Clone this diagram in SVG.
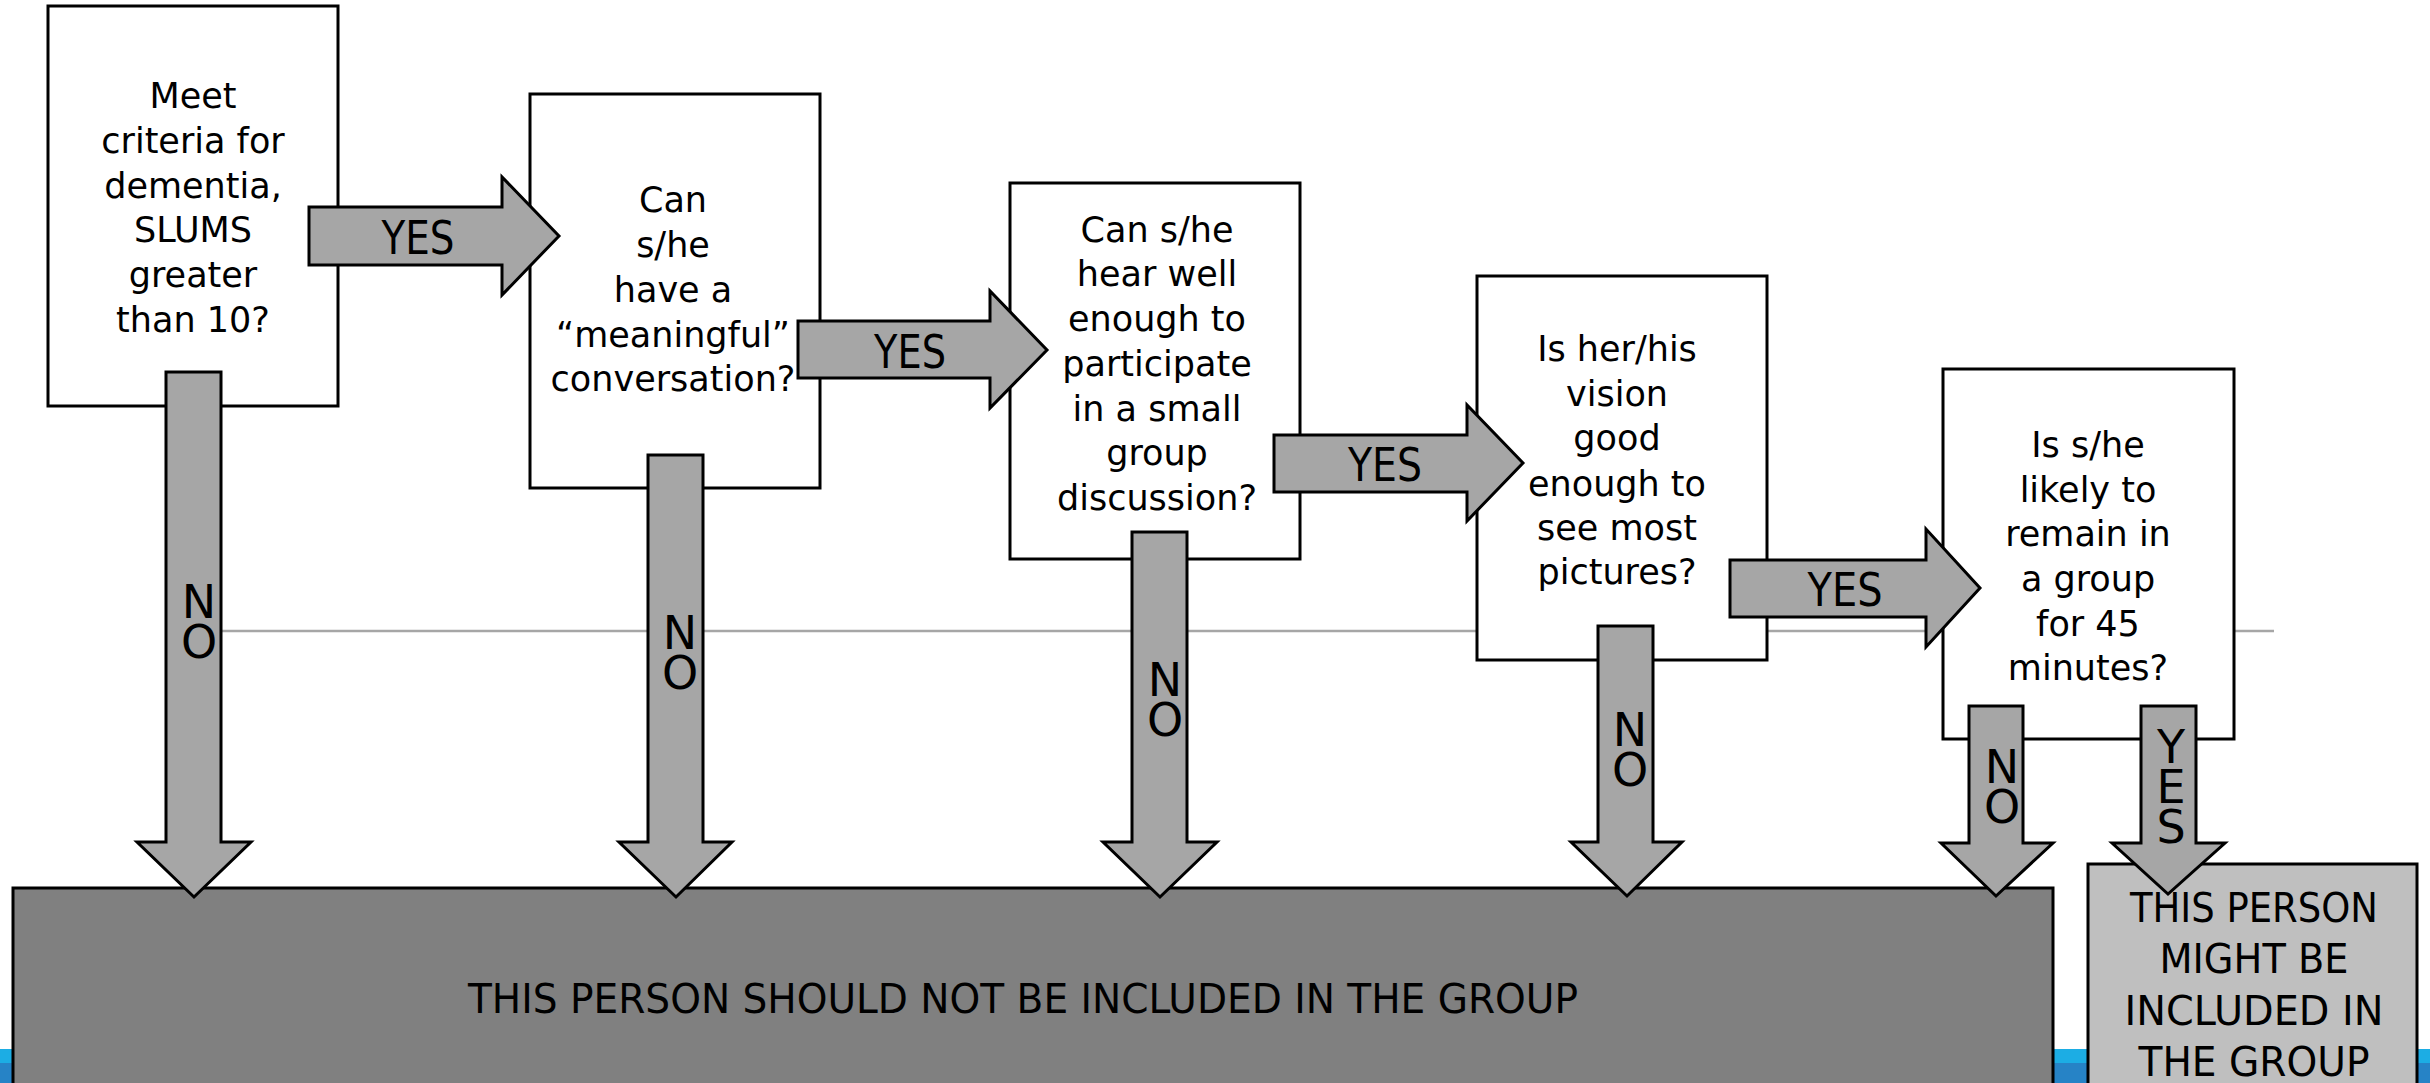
<svg xmlns="http://www.w3.org/2000/svg" width="2430" height="1083" viewBox="0 0 2430 1083">
<style>
.q{fill:#fff;stroke:#000;stroke-width:3}
.t{font-family:"DejaVu Sans","Liberation Sans",sans-serif;font-size:35px;fill:#000;text-anchor:middle}
.arr{fill:#A6A6A6;stroke:#000;stroke-width:3;stroke-linejoin:miter}
.lbl{font-family:"DejaVu Sans","Liberation Sans",sans-serif;font-size:47px;fill:#000;text-anchor:middle}
.vl{font-family:"DejaVu Sans","Liberation Sans",sans-serif;font-size:46px;fill:#000;text-anchor:start;writing-mode:vertical-rl;text-orientation:upright;letter-spacing:-14px}
.big{font-family:"DejaVu Sans","Liberation Sans",sans-serif;font-size:41px;fill:#000;text-anchor:middle}
</style>
<rect width="2430" height="1083" fill="#fff"/>
<g id="footer-bar">
<rect x="0" y="1049" width="2430" height="14" fill="#1CADE4"/>
<rect x="0" y="1063" width="2430" height="20" fill="#2683C6"/>
</g>
<line id="divider" x1="200" y1="631" x2="2274" y2="631" stroke="#A6A6A6" stroke-width="2.5"/>
<g id="q1">
<rect class="q" x="48" y="6" width="290" height="400"/>
<text class="t" x="193" y="108">Meet</text>
<text class="t" x="193" y="153">criteria for</text>
<text class="t" x="193" y="198">dementia,</text>
<text class="t" x="193" y="242">SLUMS</text>
<text class="t" x="193" y="287">greater</text>
<text class="t" x="193" y="332">than 10?</text>
</g>
<g id="q2">
<rect class="q" x="530" y="94" width="290" height="394"/>
<text class="t" x="673" y="212">Can</text>
<text class="t" x="673" y="257">s/he</text>
<text class="t" x="673" y="302">have a</text>
<text class="t" x="673" y="347">“meaningful”</text>
<text class="t" x="673" y="391">conversation?</text>
</g>
<g id="q3">
<rect class="q" x="1010" y="183" width="290" height="376"/>
<text class="t" x="1157" y="242">Can s/he</text>
<text class="t" x="1157" y="286">hear well</text>
<text class="t" x="1157" y="331">enough to</text>
<text class="t" x="1157" y="376">participate</text>
<text class="t" x="1157" y="421">in a small</text>
<text class="t" x="1157" y="465">group</text>
<text class="t" x="1157" y="510">discussion?</text>
</g>
<g id="q4">
<rect class="q" x="1477" y="276" width="290" height="384"/>
<text class="t" x="1617" y="361">Is her/his</text>
<text class="t" x="1617" y="406">vision</text>
<text class="t" x="1617" y="450">good</text>
<text class="t" x="1617" y="496">enough to</text>
<text class="t" x="1617" y="540">see most</text>
<text class="t" x="1617" y="584">pictures?</text>
</g>
<g id="q5">
<rect class="q" x="1943" y="369" width="291" height="370"/>
<text class="t" x="2088" y="457">Is s/he</text>
<text class="t" x="2088" y="502">likely to</text>
<text class="t" x="2088" y="546">remain in</text>
<text class="t" x="2088" y="591">a group</text>
<text class="t" x="2088" y="636">for 45</text>
<text class="t" x="2088" y="680">minutes?</text>
</g>
<g id="exclude">
<rect x="13" y="888" width="2040" height="210" fill="#808080" stroke="#000" stroke-width="3"/>
<text class="big" x="1023" y="1013" textLength="1110" lengthAdjust="spacingAndGlyphs">THIS PERSON SHOULD NOT BE INCLUDED IN THE GROUP</text>
</g>
<g id="include">
<rect x="2088" y="864" width="329" height="234" fill="#BFBFBF" stroke="#000" stroke-width="3"/>
<text class="big" x="2254" y="922" textLength="248" lengthAdjust="spacingAndGlyphs">THIS PERSON</text>
<text class="big" x="2254" y="973" textLength="189" lengthAdjust="spacingAndGlyphs">MIGHT BE</text>
<text class="big" x="2254" y="1025" textLength="259" lengthAdjust="spacingAndGlyphs">INCLUDED IN</text>
<text class="big" x="2254" y="1076" textLength="231" lengthAdjust="spacingAndGlyphs">THE GROUP</text>
</g>
<g id="connectors">
<g id="yes1">
<polygon class="arr" points="309,207 502,207 502,177 559,236 502,295 502,265 309,265"/>
<text class="lbl" x="418" y="254" textLength="73" lengthAdjust="spacingAndGlyphs">YES</text>
</g>
<g id="yes2">
<polygon class="arr" points="798,321 990,321 990,291 1047,350 990,408 990,378 798,378"/>
<text class="lbl" x="910" y="368" textLength="72" lengthAdjust="spacingAndGlyphs">YES</text>
</g>
<g id="yes3">
<polygon class="arr" points="1274,435 1467,435 1467,405 1523,463 1467,521 1467,492 1274,492"/>
<text class="lbl" x="1385" y="481" textLength="74" lengthAdjust="spacingAndGlyphs">YES</text>
</g>
<g id="yes4">
<polygon class="arr" points="1730,560 1926,560 1926,529 1980,588 1926,647 1926,617 1730,617"/>
<text class="lbl" x="1845" y="606" textLength="75" lengthAdjust="spacingAndGlyphs">YES</text>
</g>
<g id="no1">
<polygon class="arr" points="166,372 221,372 221,842 251,842 194,897 137,842 166,842"/>
<text class="vl" x="199" y="575">NO</text>
</g>
<g id="no2">
<polygon class="arr" points="648,455 703,455 703,842 732,842 676,897 619,842 648,842"/>
<text class="vl" x="680" y="606">NO</text>
</g>
<g id="no3">
<polygon class="arr" points="1132,532 1187,532 1187,842 1217,842 1160,897 1103,842 1132,842"/>
<text class="vl" x="1165" y="653">NO</text>
</g>
<g id="no4">
<polygon class="arr" points="1598,626 1653,626 1653,842 1682,842 1627,896 1571,842 1598,842"/>
<text class="vl" x="1630" y="703">NO</text>
</g>
<g id="no5">
<polygon class="arr" points="1969,706 2023,706 2023,843 2053,843 1996,896 1941,843 1969,843"/>
<text class="vl" x="2002" y="740">NO</text>
</g>
<g id="yes5">
<polygon class="arr" points="2141,706 2196,706 2196,843 2225,843 2168,894 2112,843 2141,843"/>
<text class="vl" x="2171" y="720">YES</text>
</g>
</g>
</svg>
